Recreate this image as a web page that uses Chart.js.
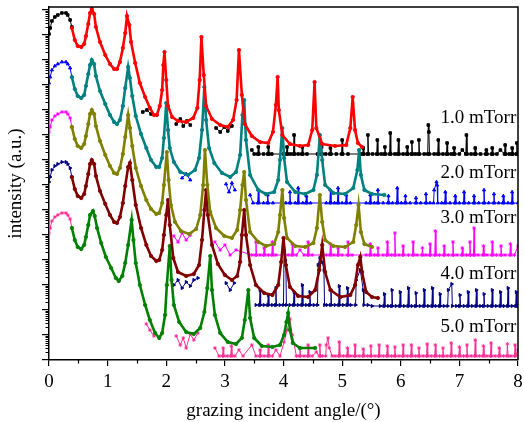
<!DOCTYPE html>
<html>
<head>
<meta charset="utf-8">
<script src="https://cdn.jsdelivr.net/npm/chart.js@4.4.1/dist/chart.umd.min.js"></script>
<style>
html, body { margin: 0; padding: 0; background: #fff; }
#wrap { width: 524px; height: 422px; }
</style>
</head>
<body>
<div id="wrap"><canvas id="xrr"></canvas></div>
<script>
// angle in degrees, intensity as log10 (decades, arbitrary offset per sample)
const sampleNames = ['1.0 mTorr', '2.0 mTorr', '3.0 mTorr', '4.0 mTorr', '5.0 mTorr'];
const angleTicks = [0, 1, 2, 3, 4, 5, 6, 7, 8];
const decadeTicks = [0, 1, 2, 3, 4, 5, 6, 7, 8, 9, 10, 11, 12, 13, 14];

// 1.0 mTorr
const fit1Angle = [0.39,0.44,0.49,0.55,0.60,0.63,0.67,0.70,0.73,0.77,0.80,0.87,0.96,1.04,1.11,1.16,1.21,1.26,1.30,1.33,1.37,1.40,1.47,1.55,1.64,1.72,1.79,1.84,1.89,1.93,1.95,1.97,2.00,2.03,2.10,2.20,2.34,2.46,2.53,2.57,2.60,2.64,2.68,2.78,2.92,3.05,3.14,3.20,3.24,3.29,3.34,3.46,3.60,3.74,3.82,3.87,3.90,3.92,3.98,4.11,4.28,4.42,4.49,4.53,4.56,4.66,4.88,5.07,5.14,5.18,5.22,5.27,5.34];
const fit1Log = [13.28,12.80,12.56,12.52,12.64,12.96,13.44,13.88,14.04,13.84,13.32,12.72,12.20,11.84,11.64,11.64,11.92,12.48,13.08,13.76,13.40,12.72,11.88,11.08,10.52,10.08,9.80,9.80,10.16,10.80,11.80,12.32,11.20,10.16,9.72,9.56,9.52,9.68,10.08,11.20,12.92,11.40,10.16,9.64,9.40,9.32,9.60,10.40,12.40,10.60,9.44,8.96,8.72,8.68,9.12,10.20,11.32,10.00,9.00,8.64,8.56,8.60,9.20,11.12,9.28,8.64,8.56,8.60,9.28,10.52,9.20,8.68,8.52];
const data1Angle = [
  [0,0.02,0.05,0.10,0.15,0.22,0.29,0.32,0.36,0.39],
  [1.60,1.67,1.74],
  [2.17,2.24,2.29,2.35,2.41],
  [2.85,2.92,2.99,3.05,3.12],
  [3.46,3.50,3.56,3.57,3.58,3.66,3.73,3.74,3.75,3.80,4.00,4.05,4.06,4.07,4.12,4.17,4.18,4.19,4.25,4.31,4.32,4.33,4.40,4.58,4.64,4.65,4.66,4.72,4.79,4.80,4.81,4.90,4.99,5.00,5.01,5.10,5.31,5.35,5.36,5.37,5.43,5.44,5.45,5.52,5.59,5.60,5.61,5.67,5.72,5.73,5.74,5.81,5.82,5.83,5.90,5.95,5.96,5.97,6.04,6.10,6.11,6.12,6.18,6.19,6.20,6.25,6.30,6.31,6.32,6.40,6.46,6.47,6.48,6.49,6.57,6.63,6.64,6.65,6.72,6.78,6.79,6.80,6.86,6.90,6.91,6.92,7.00,7.05,7.11,7.12,7.13,7.20,7.26,7.27,7.28,7.36,7.45,7.46,7.47,7.55,7.56,7.57,7.64,7.70,7.77,7.78,7.79,7.85,7.89,7.90,7.91,7.97,7.98,7.99,8.00]
];
const data1Log = [
  [13.04,13.28,13.56,13.72,13.80,13.88,13.88,13.80,13.60,13.32],
  [9.92,10.00,9.84],
  [9.44,9.64,9.36,9.56,9.40],
  [9.28,9.12,9.32,9.16,9.36],
  [8.40,8.24,8.24,8.52,8.24,8.24,8.24,8.52,8.24,8.24,8.24,8.24,8.52,8.24,8.24,8.24,9.00,8.24,8.24,8.24,8.52,8.24,8.24,8.24,8.24,8.52,8.24,8.24,8.24,8.48,8.24,8.24,8.24,8.80,8.24,8.24,8.24,8.24,8.48,8.24,8.24,9.00,8.24,8.24,8.24,8.80,8.24,8.24,8.24,8.52,8.24,8.24,9.08,8.24,8.24,8.24,8.80,8.24,8.24,8.24,8.52,8.24,8.24,8.72,8.24,8.24,8.24,8.80,8.24,8.24,8.24,9.40,9.12,8.24,8.24,8.24,8.80,8.24,8.24,8.24,8.68,8.24,8.24,8.24,8.48,8.24,8.24,8.40,8.24,9.00,8.24,8.24,8.24,8.48,8.24,8.24,8.24,8.40,8.24,8.24,8.48,8.24,8.24,8.40,8.24,8.60,8.24,8.24,8.24,8.48,8.24,8.24,8.68,8.24,8.24]
];

// 2.0 mTorr
const fit2Angle = [0.39,0.44,0.49,0.55,0.60,0.63,0.67,0.70,0.73,0.77,0.80,0.87,0.96,1.04,1.11,1.16,1.21,1.26,1.30,1.35,1.38,1.42,1.48,1.57,1.66,1.74,1.83,1.88,1.93,1.96,2.00,2.03,2.06,2.13,2.24,2.37,2.49,2.56,2.61,2.65,2.68,2.73,2.82,2.95,3.09,3.19,3.26,3.30,3.33,3.36,3.43,3.57,3.70,3.84,3.91,3.94,3.98,4.01,4.06,4.20,4.37,4.51,4.57,4.62,4.66,4.71,4.85,5.05,5.19,5.26,5.29,5.32,5.38,5.51,5.72];
const fit2Log = [11.32,10.84,10.56,10.48,10.60,10.96,11.44,11.80,12.00,11.84,11.36,10.76,10.24,9.80,9.52,9.44,9.60,10.16,10.88,11.72,11.28,10.56,9.76,9.04,8.48,8.00,7.72,7.72,8.08,8.88,10.28,9.20,8.48,7.92,7.52,7.40,7.60,8.08,9.20,10.92,9.60,8.48,7.88,7.48,7.32,7.52,8.20,9.80,10.40,8.80,7.40,6.80,6.64,6.72,7.20,8.00,9.28,8.08,7.12,6.72,6.64,6.80,7.40,9.00,8.00,7.00,6.68,6.64,6.88,7.60,8.40,7.40,6.80,6.64,6.60];
const data2Angle = [
  [0,0.02,0.05,0.10,0.15,0.22,0.29,0.32,0.36,0.39],
  [2.27,2.34,2.41],
  [3.02,3.07,3.12,3.17],
  [3.43,3.48,3.56,3.57,3.58,3.66,3.72,3.73,3.74,3.82,4.04,4.10,4.11,4.12,4.20,4.24,4.25,4.26,4.33,4.38,4.39,4.40,4.46,4.73,4.79,4.80,4.81,4.87,4.92,4.93,4.94,5.00,5.06,5.07,5.08,5.14,5.41,5.47,5.48,5.49,5.55,5.60,5.61,5.62,5.70,5.78,5.79,5.80,5.86,5.93,5.94,5.95,6.01,6.07,6.08,6.09,6.16,6.25,6.26,6.27,6.34,6.42,6.43,6.44,6.50,6.56,6.57,6.61,6.62,6.63,6.70,6.75,6.76,6.77,6.84,6.92,6.93,6.94,7.00,7.07,7.08,7.09,7.16,7.24,7.25,7.26,7.33,7.41,7.42,7.43,7.50,7.58,7.59,7.60,7.67,7.74,7.75,7.76,7.83,7.89,7.90,7.91,8.00]
];
const data2Log = [
  [11.08,11.32,11.60,11.76,11.84,11.92,11.92,11.84,11.68,11.32],
  [7.28,7.44,7.20],
  [7.04,6.72,7.08,6.80],
  [6.60,6.28,6.28,6.80,6.28,6.28,6.28,6.60,6.28,6.28,6.28,6.28,6.72,6.28,6.28,6.28,6.88,6.28,6.28,6.28,6.56,6.28,6.28,6.28,6.28,6.80,6.28,6.28,6.28,6.88,6.28,6.28,6.28,6.60,6.28,6.28,6.28,6.28,6.60,6.28,6.28,6.28,6.80,6.28,6.28,6.28,6.56,6.28,6.28,6.28,6.88,6.28,6.28,6.28,6.56,6.28,6.28,6.28,6.48,6.28,6.28,6.28,6.64,6.28,6.28,6.28,6.80,7.12,7.00,6.28,6.28,6.28,6.72,6.28,6.28,6.28,6.56,6.28,6.28,6.28,6.72,6.28,6.28,6.28,6.56,6.28,6.28,6.28,6.80,6.28,6.28,6.28,6.64,6.28,6.28,6.28,6.56,6.28,6.28,6.28,6.72,6.28,6.28]
];

// 3.0 mTorr
const fit3Angle = [0.39,0.44,0.49,0.55,0.60,0.63,0.67,0.70,0.73,0.77,0.80,0.87,0.96,1.04,1.11,1.16,1.21,1.26,1.30,1.35,1.38,1.42,1.48,1.57,1.66,1.74,1.83,1.88,1.93,1.96,2.01,2.04,2.08,2.15,2.25,2.39,2.51,2.58,2.63,2.66,2.70,2.75,2.85,2.99,3.12,3.21,3.26,3.30,3.33,3.36,3.43,3.57,3.70,3.84,3.91,3.94,3.98,4.01,4.06,4.20,4.37,4.51,4.57,4.62,4.66,4.71,4.85,5.05,5.19,5.24,5.28,5.32,5.38,5.51];
const fit3Log = [9.32,8.84,8.56,8.48,8.64,8.96,9.44,9.84,10.00,9.84,9.36,8.76,8.20,7.76,7.48,7.44,7.68,8.24,8.92,9.80,9.28,8.56,7.68,6.96,6.40,6.04,5.84,5.88,6.28,7.00,8.32,7.20,6.20,5.52,5.16,5.04,5.24,5.80,7.00,8.40,7.00,5.92,5.28,4.96,4.88,5.20,6.00,7.00,7.52,6.40,5.12,4.72,4.56,4.64,5.12,5.80,6.80,5.68,4.88,4.56,4.52,4.68,5.28,6.60,5.52,4.80,4.56,4.52,4.72,5.40,6.20,5.12,4.64,4.52];
const data3Angle = [
  [0,0.02,0.05,0.10,0.15,0.22,0.29,0.32,0.36,0.39],
  [2.13,2.20,2.27,2.34,2.41],
  [2.83,2.92,3.00,3.09,3.19,3.46,3.52,3.53,3.54,3.60,3.66,3.67,3.68,3.74,3.80,3.81,3.82,3.87,4.08,4.14,4.15,4.16,4.22,4.28,4.35,4.41,4.42,4.43,4.49,4.73,4.79,4.80,4.81,4.86,4.92,4.93,4.94,5.00,5.09,5.10,5.11,5.17,5.41,5.47,5.48,5.49,5.55,5.60,5.61,5.62,5.70,5.76,5.77,5.78,5.84,5.89,5.90,5.91,5.97,6.03,6.04,6.05,6.13,6.20,6.21,6.22,6.28,6.36,6.37,6.38,6.43,6.49,6.50,6.51,6.58,6.59,6.60,6.66,6.73,6.74,6.75,6.81,6.88,6.89,6.90,6.96,7.04,7.05,7.06,7.12,7.17,7.18,7.19,7.24,7.25,7.26,7.32,7.40,7.41,7.42,7.47,7.55,7.56,7.57,7.63,7.70,7.71,7.72,7.78,7.86,7.87,7.88,7.94,8.00]
];
const data3Log = [
  [9.12,9.32,9.60,9.76,9.84,9.92,9.92,9.84,9.68,9.32],
  [4.96,4.72,5.08,4.80,5.00],
  [4.72,4.40,4.60,4.20,4.40,4.20,4.20,4.72,4.20,4.20,4.20,4.48,4.20,4.20,4.20,4.72,4.20,4.20,4.20,4.20,4.64,4.20,4.20,4.40,4.20,4.20,4.72,4.20,4.20,4.20,4.20,4.64,4.20,4.20,4.20,4.48,4.20,4.20,4.20,4.72,4.20,4.20,4.20,4.20,4.64,4.20,4.20,4.20,4.48,4.20,4.20,4.20,4.72,4.20,4.20,4.20,5.08,4.20,4.20,4.20,4.56,4.20,4.20,4.20,4.72,4.20,4.20,4.20,4.48,4.20,4.20,4.20,4.64,4.20,4.20,5.16,4.20,4.20,4.20,4.56,4.20,4.20,4.20,4.72,4.20,4.20,4.20,4.48,4.20,4.20,4.20,4.72,4.20,4.20,5.28,4.20,4.20,4.20,4.56,4.20,4.20,4.20,4.72,4.20,4.20,4.20,4.56,4.20,4.20,4.20,4.64,4.20,4.20,4.56]
];

// 4.0 mTorr
const fit4Angle = [0.39,0.44,0.49,0.55,0.60,0.63,0.67,0.70,0.73,0.77,0.80,0.87,0.96,1.04,1.11,1.16,1.21,1.26,1.30,1.35,1.38,1.42,1.48,1.57,1.66,1.74,1.83,1.88,1.93,1.96,2.00,2.03,2.06,2.12,2.20,2.34,2.47,2.56,2.61,2.65,2.68,2.71,2.78,2.88,3.00,3.12,3.21,3.26,3.29,3.33,3.36,3.43,3.53,3.67,3.81,3.91,3.96,4.00,4.04,4.11,4.25,4.42,4.54,4.61,4.66,4.71,4.80,4.97,5.14,5.22,5.27,5.31,5.34,5.41,5.51,5.61];
const fit4Log = [7.32,6.84,6.56,6.48,6.64,6.96,7.44,7.84,8.00,7.84,7.36,6.76,6.24,5.80,5.52,5.48,5.72,6.28,6.96,7.72,7.88,7.20,6.20,5.28,4.60,4.16,3.96,4.00,4.40,5.00,5.80,6.40,5.40,4.08,3.52,3.36,3.44,3.80,4.80,6.00,6.80,5.80,4.60,3.84,3.40,3.20,3.36,3.92,5.00,6.00,5.00,3.80,3.00,2.68,2.60,3.00,3.92,4.88,3.80,2.92,2.56,2.52,2.80,3.60,4.60,3.52,2.80,2.52,2.60,3.00,3.80,4.12,3.52,2.72,2.52,2.48];
const data4Angle = [
  [0,0.02,0.05,0.10,0.15,0.22,0.29,0.32,0.36,0.39],
  [2.13,2.20,2.27,2.34,2.41,2.47,2.54],
  [3.02,3.09,3.16],
  [3.53,3.59,3.60,3.61,3.67,3.73,3.74,3.75,3.81,3.86,3.87,3.88,3.94,4.00,4.01,4.03,4.04,4.05,4.11,4.17,4.18,4.19,4.25,4.31,4.32,4.33,4.39,4.44,4.45,4.46,4.52,4.58,4.59,4.62,4.66,4.69,4.70,4.74,4.80,4.81,4.82,4.88,4.94,4.95,4.96,5.02,5.08,5.09,5.10,5.15,5.23,5.24,5.31,5.36,5.37,5.44,5.51,5.65,5.71,5.72,5.73,5.79,5.84,5.85,5.86,5.92,5.98,5.99,6.00,6.06,6.12,6.13,6.14,6.19,6.25,6.26,6.27,6.33,6.39,6.40,6.41,6.47,6.53,6.54,6.55,6.60,6.66,6.67,6.68,6.74,6.80,6.81,6.87,6.88,6.95,7.00,7.01,7.02,7.08,7.14,7.15,7.16,7.22,7.28,7.29,7.30,7.36,7.41,7.42,7.43,7.49,7.55,7.56,7.57,7.63,7.69,7.70,7.71,7.76,7.82,7.83,7.84,7.90,7.96,7.97,7.98,8.00]
];
const data4Log = [
  [7.12,7.32,7.60,7.76,7.84,7.92,7.92,7.84,7.68,7.32],
  [3.00,3.20,2.88,3.12,2.96,3.20,3.28],
  [3.08,2.80,3.08],
  [2.20,2.20,2.80,2.20,2.20,2.20,2.60,2.20,2.20,2.20,2.88,2.20,2.20,2.20,4.40,4.00,3.80,2.20,2.20,2.20,2.72,2.20,2.20,2.20,3.00,2.20,2.20,2.20,2.72,2.20,2.20,2.20,3.80,4.08,3.92,3.60,2.20,2.20,2.20,2.80,2.20,2.20,2.20,2.96,2.20,2.20,2.20,2.88,2.20,2.20,2.20,3.20,3.60,2.80,2.20,2.20,2.16,2.16,2.16,2.64,2.16,2.16,2.16,2.80,2.16,2.16,2.16,2.72,2.16,2.16,2.16,2.88,2.16,2.16,2.16,2.68,2.16,2.16,2.16,2.80,2.16,2.16,2.16,2.88,2.16,2.16,2.16,2.64,2.16,2.16,2.16,2.80,3.04,2.16,2.16,2.16,2.60,2.16,2.16,2.16,2.72,2.16,2.16,2.16,2.80,2.16,2.16,2.16,2.64,2.16,2.16,2.16,2.80,2.16,2.16,2.16,2.72,2.16,2.16,2.16,2.88,2.16,2.16,2.16,2.72,2.16,2.16]
];

// 5.0 mTorr
const fit5Angle = [0.39,0.44,0.49,0.55,0.60,0.63,0.67,0.70,0.75,0.78,0.82,0.89,0.97,1.06,1.14,1.19,1.25,1.30,1.35,1.41,1.44,1.48,1.55,1.64,1.72,1.81,1.88,1.93,1.98,2.01,2.06,2.09,2.13,2.22,2.34,2.47,2.58,2.65,2.70,2.75,2.78,2.83,2.92,3.05,3.19,3.29,3.34,3.40,3.43,3.50,3.63,3.81,3.94,4.01,4.05,4.08,4.11,4.16,4.28,4.54];
const fit5Log = [5.28,4.80,4.52,4.44,4.60,4.92,5.40,5.80,5.96,5.76,5.28,4.68,4.12,3.68,3.28,3.16,3.36,3.88,4.60,5.60,4.80,3.88,3.00,2.20,1.60,1.08,0.88,1.08,1.80,3.00,4.56,3.20,2.20,1.52,1.12,1.04,1.28,1.92,2.88,4.16,2.80,1.80,1.08,0.72,0.64,0.88,1.60,2.80,1.68,0.88,0.56,0.52,0.60,1.00,1.52,1.88,1.20,0.68,0.48,0.48];
const data5Angle = [
  [0,0.02,0.05,0.10,0.15,0.22,0.29,0.32,0.36,0.39],
  [1.66,1.72,1.79],
  [2.17,2.24,2.29,2.34,2.41,2.47,2.54],
  [2.83,2.90,2.96,2.97,2.98,3.04,3.10,3.11,3.12,3.17,3.24,3.31,3.46,3.53,3.59,3.60,3.61,3.67,3.73,3.74,3.75,3.81,3.87,3.94,4.01,4.06,4.11,4.15,4.22,4.27,4.28,4.29,4.35,4.41,4.42,4.43,4.49,4.56,4.61,4.62,4.63,4.66,4.72,4.73,4.76,4.78,4.83,4.88,4.94,4.95,4.96,5.02,5.08,5.09,5.10,5.15,5.21,5.22,5.23,5.29,5.35,5.36,5.37,5.43,5.48,5.49,5.50,5.56,5.62,5.63,5.64,5.70,5.76,5.77,5.78,5.84,5.89,5.90,5.91,5.97,6.03,6.04,6.05,6.11,6.17,6.18,6.19,6.25,6.30,6.31,6.32,6.38,6.44,6.45,6.46,6.52,6.58,6.59,6.60,6.66,6.71,6.72,6.73,6.79,6.85,6.86,6.87,6.93,6.99,7.00,7.01,7.07,7.12,7.13,7.14,7.20,7.26,7.27,7.28,7.34,7.40,7.41,7.42,7.47,7.53,7.54,7.55,7.61,7.67,7.68,7.69,7.75,7.81,7.82,7.83,7.88,7.94,7.95,7.96,8.00]
];
const data5Log = [
  [5.08,5.28,5.56,5.72,5.80,5.88,5.88,5.80,5.64,5.28],
  [1.44,1.20,0.96],
  [0.96,0.60,0.88,0.48,1.04,0.80,1.08],
  [0.48,0.16,0.16,0.48,0.16,0.16,0.16,0.56,0.16,0.16,0.40,0.16,0.60,0.16,0.16,0.40,0.16,0.16,0.16,0.60,0.16,0.16,0.40,0.16,0.72,1.20,1.64,1.00,0.16,0.16,0.48,0.16,0.16,0.16,0.60,0.16,0.16,0.32,0.16,0.60,0.16,0.16,0.16,0.60,0.88,0.48,0.16,0.16,0.16,0.72,0.16,0.16,0.16,0.48,0.16,0.16,0.16,0.60,0.16,0.16,0.16,0.44,0.16,0.16,0.16,0.56,0.16,0.16,0.16,0.60,0.16,0.16,0.16,0.56,0.16,0.16,0.16,0.52,0.16,0.16,0.16,0.60,0.16,0.16,0.16,0.60,0.16,0.16,0.16,0.48,0.16,0.16,0.16,0.64,0.16,0.16,0.16,0.60,0.16,0.16,0.16,0.48,0.16,0.16,0.16,0.68,0.16,0.16,0.16,0.52,0.16,0.16,0.16,0.60,0.16,0.16,0.16,0.80,0.16,0.16,0.16,0.56,0.16,0.16,0.16,0.68,0.16,0.16,0.16,0.48,0.16,0.16,0.16,0.64,0.16,0.16,0.16,0.60,0.16,0.40]
];

// where the sample names sit (angle, log intensity)
const nameAngle = 7.97;
const nameLog = [9.68, 7.48, 5.68, 3.44, 1.32];

const serif = '"Liberation Serif", "Times New Roman", serif';
const textSize = 19;

function toPoints(angles, logs) {
  return angles.map((a, i) => ({ x: a, y: logs[i] }));
}

// segments are joined with a null point so the line breaks between them
function toSegments(angleSegs, logSegs) {
  const pts = [];
  angleSegs.forEach((seg, s) => {
    if (s > 0) pts.push({ x: seg[0], y: null });
    seg.forEach((a, i) => pts.push({ x: a, y: logSegs[s][i] }));
  });
  return pts;
}

function fitSet(label, angles, logs, color) {
  return {
    label: label,
    data: toPoints(angles, logs),
    showLine: true,
    borderColor: color,
    borderWidth: 2.6,
    pointRadius: 1.7,
    pointStyle: 'circle',
    pointBackgroundColor: color,
    pointBorderColor: color,
    pointBorderWidth: 0.8,
    tension: 0,
    order: 0
  };
}

function dataSet(label, angleSegs, logSegs, color, style, rotation) {
  return {
    label: label,
    data: toSegments(angleSegs, logSegs),
    showLine: true,
    spanGaps: false,
    borderColor: color,
    borderWidth: 1,
    pointRadius: 1.8,
    pointStyle: style,
    rotation: rotation || 0,
    pointBackgroundColor: color,
    pointBorderColor: color,
    pointBorderWidth: 1,
    tension: 0,
    order: 1
  };
}

const axisExtras = {
  id: 'axisExtras',
  afterDraw(chart) {
    const { ctx, chartArea: a, scales: { x, y } } = chart;
    ctx.save();
    ctx.strokeStyle = '#000';
    ctx.lineWidth = 1.2;
    ctx.beginPath();
    for (let t = 0.5; t < 8; t += 1) {
      const px = Math.round(x.getPixelForValue(t)) + 0.5;
      ctx.moveTo(px, a.bottom);
      ctx.lineTo(px, a.bottom + 3.5);
    }
    decadeTicks.forEach(d => {
      for (let k = 2; k <= 9; k++) {
        const v = d + Math.log10(k);
        if (v > y.max) continue;
        const py = Math.round(y.getPixelForValue(v)) + 0.5;
        ctx.moveTo(a.left, py);
        ctx.lineTo(a.left - 3.5, py);
      }
    });
    ctx.stroke();

    ctx.lineWidth = 1.5;
    ctx.beginPath();
    ctx.moveTo(a.left, a.top);
    ctx.lineTo(a.right, a.top);
    ctx.lineTo(a.right, a.bottom);
    ctx.stroke();

    ctx.fillStyle = '#000';
    ctx.font = textSize + 'px ' + serif;
    ctx.textAlign = 'right';
    ctx.textBaseline = 'middle';
    sampleNames.forEach((name, i) => {
      ctx.fillText(name, x.getPixelForValue(nameAngle), y.getPixelForValue(nameLog[i]));
    });
    ctx.restore();
  }
};

new Chart(document.getElementById('xrr'), {
  type: 'scatter',
  data: {
    datasets: [
      fitSet('1.0 mTorr fit', fit1Angle, fit1Log, '#ff0000'),
      fitSet('2.0 mTorr fit', fit2Angle, fit2Log, '#008080'),
      fitSet('3.0 mTorr fit', fit3Angle, fit3Log, '#808000'),
      fitSet('4.0 mTorr fit', fit4Angle, fit4Log, '#800000'),
      fitSet('5.0 mTorr fit', fit5Angle, fit5Log, '#008000'),
      dataSet('1.0 mTorr', data1Angle, data1Log, '#000000', 'rect'),
      dataSet('2.0 mTorr', data2Angle, data2Log, '#0000ff', 'triangle'),
      dataSet('3.0 mTorr', data3Angle, data3Log, '#ff00ff', 'star'),
      dataSet('4.0 mTorr', data4Angle, data4Log, '#000080', 'triangle', 90),
      dataSet('5.0 mTorr', data5Angle, data5Log, '#ff2e97', 'star')
    ]
  },
  options: {
    responsive: true,
    maintainAspectRatio: false,
    animation: false,
    devicePixelRatio: 1,
    layout: { padding: { top: 7, right: 6, bottom: 0, left: 0 } },
    plugins: {
      legend: { display: false },
      tooltip: { enabled: false }
    },
    scales: {
      x: {
        type: 'linear',
        min: 0,
        max: 8,
        afterBuildTicks: scale => { scale.ticks = angleTicks.map(v => ({ value: v })); },
        afterFit: scale => {
          scale.height = 62;
          scale.paddingLeft = 0;
          scale.paddingRight = 0;
        },
        ticks: { color: '#000', font: { family: serif, size: textSize }, padding: 5, maxRotation: 0 },
        grid: { drawOnChartArea: false, tickLength: 6, color: '#000', lineWidth: 1.2 },
        border: { display: true, color: '#000', width: 1.5 },
        title: {
          display: true,
          text: 'grazing incident angle/(°)',
          color: '#000',
          font: { family: serif, size: textSize },
          padding: { top: 0, bottom: 0 }
        }
      },
      y: {
        type: 'linear',
        min: 0,
        max: 14.12,
        afterBuildTicks: scale => { scale.ticks = decadeTicks.map(v => ({ value: v })); },
        afterFit: scale => { scale.width = 49; },
        ticks: { display: false },
        grid: { drawOnChartArea: false, tickLength: 7, color: '#000', lineWidth: 1.2 },
        border: { display: true, color: '#000', width: 1.5 },
        title: {
          display: true,
          text: 'intensity (a.u.)',
          color: '#000',
          font: { family: serif, size: textSize },
          padding: { top: 5, bottom: 0 }
        }
      }
    }
  },
  plugins: [axisExtras]
});
</script>
</body>
</html>
